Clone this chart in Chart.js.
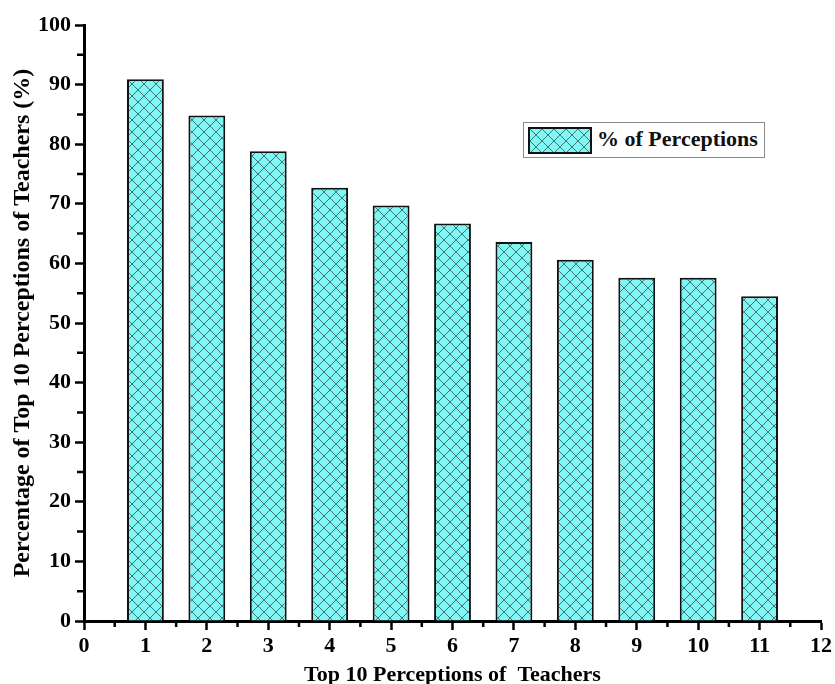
<!DOCTYPE html>
<html>
<head>
<meta charset="utf-8">
<script src="https://cdn.jsdelivr.net/npm/chart.js@4"></script>
<style>
  html, body { margin: 0; padding: 0; background: #fff; }
  #wrap { position: relative; width: 835px; height: 684px; }
  #legendBox {
    position: absolute; left: 523px; top: 122px; width: 240px; height: 34px;
    border: 1px solid #8a8a8a; background: #fff;
    font: bold 22px "Liberation Serif", "Times New Roman", serif; color: #111;
  }
  #legendSwatch {
    position: absolute; left: 4px; top: 4px; width: 60px; height: 23px;
    border: 2px solid #111;
  }
  #legendText { position: absolute; left: 73px; top: 3px; white-space: nowrap; }
</style>
</head>
<body>
<div id="wrap">
  <canvas id="grafico" width="835" height="684"></canvas>
  <div id="legendBox"><div id="legendSwatch"></div><span id="legendText"></span></div>
</div>
<script>
/* =====================================================
   Datos
===================================================== */
const percepciones = [1, 2, 3, 4, 5, 6, 7, 8, 9, 10, 11]
const porcentajes  = [90.9, 84.8, 78.8, 72.7, 69.7, 66.7, 63.6, 60.6, 57.6, 57.6, 54.5]
const ticksX = [0, 12]
const ticksY = [0, 100]
const serieNombre = "% of Perceptions"
const tituloX = "Top 10 Perceptions of  Teachers"
const tituloY = "Percentage of Top 10 Perceptions of Teachers (%)"

const FUENTE = "'Liberation Serif', 'Times New Roman', serif"

// Patrón cuadriculado diagonal
function crearPatron() {
  const c = document.createElement("canvas")
  c.width = 12; c.height = 12
  const g = c.getContext("2d")
  g.fillStyle = "#7ff7f4"
  g.fillRect(0, 0, 12, 12)
  g.strokeStyle = "#35504f"
  g.lineWidth = 0.8
  g.beginPath()
  g.moveTo(0, 0); g.lineTo(12, 12)
  g.moveTo(12, 0); g.lineTo(0, 12)
  g.stroke()
  return c
}
const tile = crearPatron()
const patron = document.getElementById("grafico").getContext("2d").createPattern(tile, "repeat")

document.getElementById("legendSwatch").style.background = "url(" + tile.toDataURL() + ")"
document.getElementById("legendText").textContent = serieNombre

// Ticks menores (cada 5 en Y, cada 0.5 en X)
const menores = {
  id: "menores",
  afterDatasetsDraw(chart) {
    const { ctx, scales: { x, y } } = chart
    ctx.save()
    ctx.strokeStyle = "#000"
    ctx.lineWidth = 2.5
    ctx.beginPath()
    for (let v = ticksY[0] + 5; v < ticksY[1]; v += 10) {
      const py = y.getPixelForValue(v)
      ctx.moveTo(y.right - 7, py); ctx.lineTo(y.right, py)
    }
    for (let v = ticksX[0] + 0.5; v < ticksX[1]; v += 1) {
      const px = x.getPixelForValue(v)
      ctx.moveTo(px, x.top); ctx.lineTo(px, x.top + 6)
    }
    ctx.stroke()
    ctx.restore()
  }
}

new Chart(document.getElementById("grafico"), {
  type: "bar",
  data: {
    datasets: [{
      label: serieNombre,
      data: percepciones.map((p, i) => ({ x: p, y: porcentajes[i] })),
      backgroundColor: patron,
      borderColor: "#111",
      borderWidth: 2,
      borderSkipped: "bottom",
      barPercentage: 0.6,
      categoryPercentage: 1,
    }]
  },
  options: {
    responsive: false,
    animation: false,
    layout: { padding: { top: 25, right: 13, left: 0, bottom: 0 } },
    plugins: { legend: { display: false }, tooltip: { enabled: false } },
    scales: {
      x: {
        type: "linear",
        offset: false,
        min: ticksX[0], max: ticksX[1],
        ticks: { stepSize: 1, color: "#000", padding: 3, font: { family: FUENTE, size: 22, weight: "bold" } },
        grid: { offset: false, drawOnChartArea: false, tickLength: 9, tickWidth: 2.5, tickColor: "#000" },
        border: { color: "#000", width: 3 },
        title: {
          display: true, text: tituloX, color: "#000", padding: { top: 0, bottom: -5 },
          font: { family: FUENTE, size: 22, weight: "bold" }
        },
        afterFit: s => { s.height = 63 }
      },
      y: {
        min: ticksY[0], max: ticksY[1],
        ticks: { stepSize: 10, color: "#000", padding: 4, font: { family: FUENTE, size: 22, weight: "bold" } },
        grid: { drawOnChartArea: false, tickLength: 9, tickWidth: 2.5, tickColor: "#000" },
        border: { color: "#000", width: 3 },
        title: {
          display: true, text: tituloY, color: "#000", padding: { top: 8, bottom: 0 },
          font: { family: FUENTE, size: 24, weight: "bold" }
        },
        afterFit: s => { s.width = 84 }
      }
    }
  },
  plugins: [menores]
})
</script>
</body>
</html>
